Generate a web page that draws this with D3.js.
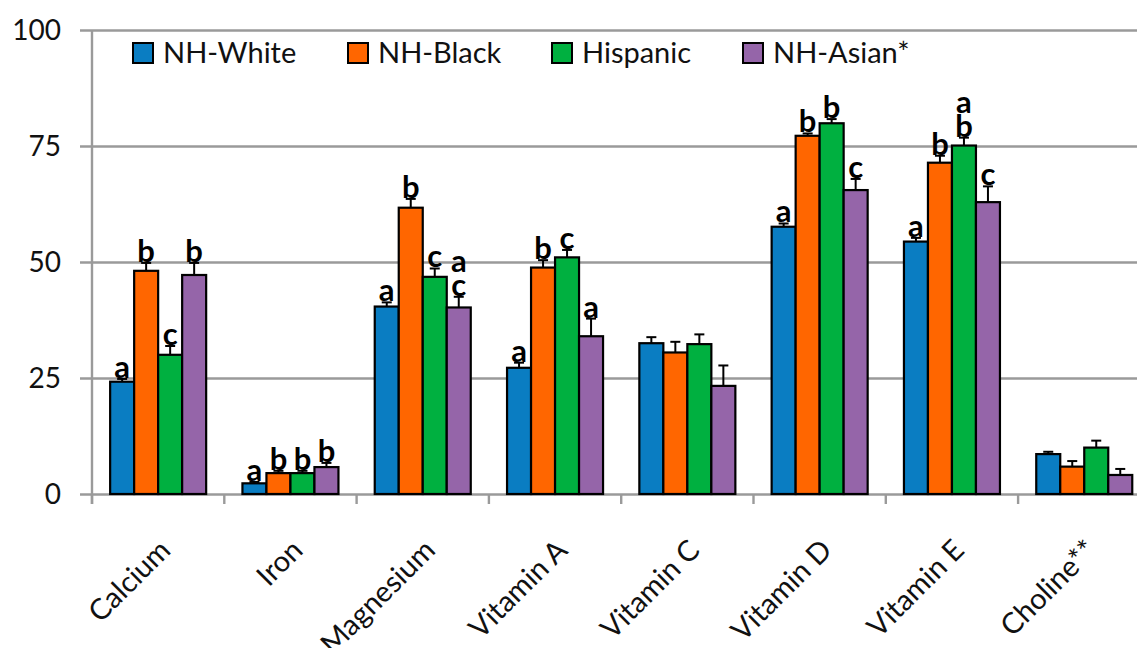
<!DOCTYPE html>
<html>
<head>
<meta charset="utf-8">
<script src="https://cdn.jsdelivr.net/npm/d3@7"></script>
<style>
  html, body { margin: 0; padding: 0; background: #fff; }
  svg { display: block; font-family: Lato, "Open Sans", sans-serif; }
</style>
</head>
<body>
<svg id="chart" width="1137" height="648"></svg>
<script>
// Nutrients on the x axis
const categories = ["Calcium", "Iron", "Magnesium", "Vitamin A", "Vitamin C", "Vitamin D", "Vitamin E", "Choline**"];
const seriesNames = ["NH-White", "NH-Black", "Hispanic", "NH-Asian*"];

// Mean values per group
const whiteVals    = [24.2, 2.3, 40.4, 27.2, 32.5, 57.6, 54.4, 8.6];
const blackVals    = [48.1, 4.5, 61.7, 48.8, 30.5, 77.2, 71.4, 5.9];
const hispanicVals = [30.0, 4.5, 46.8, 51.0, 32.3, 79.9, 75.1, 10.0];
const asianVals    = [47.2, 5.8, 40.2, 34.0, 23.3, 65.5, 62.9, 4.1];

// Upper error (standard error) per group
const whiteErr    = [0.6, 0.3, 0.9, 1.1, 1.3, 0.7, 0.8, 0.5];
const blackErr    = [1.7, 0.5, 1.9, 1.6, 2.3, 0.5, 1.5, 1.2];
const hispanicErr = [1.9, 0.5, 1.8, 1.6, 2.1, 0.9, 1.7, 1.5];
const asianErr    = [2.6, 0.9, 2.3, 3.8, 4.4, 2.4, 3.4, 1.3];

// Significance letters (top to bottom when stacked)
const whiteSig    = [["a"], ["a"], ["a"], ["a"], [], ["a"], ["a"], []];
const blackSig    = [["b"], ["b"], ["b"], ["b"], [], ["b"], ["b"], []];
const hispanicSig = [["c"], ["b"], ["c"], ["c"], [], ["b"], ["a", "b"], []];
const asianSig    = [["b"], ["b"], ["a", "c"], ["a"], [], ["c"], ["c"], []];

const yTicks = [0, 25, 50, 75, 100];
const colors = ["#0A7DC2", "#FF6600", "#00B040", "#9565A9"];

const seriesVals = [whiteVals, blackVals, hispanicVals, asianVals];
const seriesErr = [whiteErr, blackErr, hispanicErr, asianErr];
const seriesSig = [whiteSig, blackSig, hispanicSig, asianSig];

const rows = [];
categories.forEach((c, ci) => {
  seriesNames.forEach((s, si) => {
    rows.push({ cat: c, series: s, si, value: seriesVals[si][ci], err: seriesErr[si][ci], sig: seriesSig[si][ci] });
  });
});

const svg = d3.select("#chart");
const plotLeft = 92, plotTop = 30, plotBottom = 494;
const step = 132.3;

const y = d3.scaleLinear().domain([0, 100]).range([plotBottom, plotTop]);
const x0 = d3.scaleBand().domain(categories).range([plotLeft, plotLeft + step * categories.length]).padding(0);
const x1 = d3.scaleBand().domain(seriesNames).range([0, x0.bandwidth()]).paddingInner(0).paddingOuter(0.756);

const gridColor = "#9a9a9a";

// Horizontal gridlines with ticks extending left of the axis
const yAxis = d3.axisLeft(y).tickValues(yTicks).tickSize(0).tickPadding(0).tickFormat(d3.format("d"));
const gy = svg.append("g").attr("transform", `translate(${plotLeft - 12},0)`).call(yAxis);
gy.select(".domain").remove();
gy.selectAll(".tick line").attr("stroke", gridColor).attr("stroke-width", 2.4).attr("x1", 0).attr("x2", 1137 - plotLeft + 12);
gy.selectAll(".tick text").attr("x", -19).attr("dy", "0.35em").attr("font-size", 28).attr("fill", "#111").attr("font-family", "Lato, sans-serif");

// Vertical axis line
svg.append("line").attr("x1", plotLeft).attr("x2", plotLeft).attr("y1", plotTop).attr("y2", plotBottom + 10)
  .attr("stroke", gridColor).attr("stroke-width", 2.4);

// Category ticks along the bottom
const xAxis = d3.axisBottom(x0).tickSize(10).tickFormat("");
const gx = svg.append("g").attr("transform", `translate(0,${plotBottom})`).call(xAxis);
gx.select(".domain").remove();
gx.selectAll(".tick").attr("transform", d => `translate(${x0(d)},0)`);
gx.selectAll(".tick line").attr("stroke", gridColor).attr("stroke-width", 2.4);

// Category labels, rotated
svg.append("g").selectAll("text").data(categories).join("text")
  .attr("transform", d => `translate(${x0(d) + x0.bandwidth() / 2 + 14},${plotBottom + 58}) rotate(-45)`)
  .attr("text-anchor", "end")
  .attr("font-size", 29)
  .attr("fill", "#111")
  .text(d => d);

// Bars
const groups = svg.append("g").selectAll("g").data(rows).join("g")
  .attr("transform", d => `translate(${x0(d.cat) + x1(d.series)},0)`);

groups.append("rect")
  .attr("x", 0)
  .attr("width", x1.bandwidth())
  .attr("y", d => y(d.value))
  .attr("height", d => y(0) - y(d.value))
  .attr("fill", d => colors[d.si])
  .attr("stroke", "#000")
  .attr("stroke-width", 2.2);

// Error bars (upper only)
const cx = x1.bandwidth() / 2;
groups.append("line")
  .attr("x1", cx).attr("x2", cx)
  .attr("y1", d => y(d.value)).attr("y2", d => y(d.value + d.err))
  .attr("stroke", "#000").attr("stroke-width", 2);
groups.append("line")
  .attr("x1", cx - 5).attr("x2", cx + 5)
  .attr("y1", d => y(d.value + d.err)).attr("y2", d => y(d.value + d.err))
  .attr("stroke", "#000").attr("stroke-width", 2);

// Significance letters: one text per bar, stacked letters as tspans
const sigLine = 24;
groups.filter(d => d.sig.length > 0).append("text")
  .attr("text-anchor", "middle")
  .attr("font-size", 31)
  .attr("font-weight", "bold")
  .attr("fill", "#000")
  .each(function(d) {
    const t = d3.select(this);
    const baseY = y(d.value + d.err) - 1;
    const n = d.sig.length;
    d.sig.forEach((s, k) => {
      t.append("tspan")
        .attr("x", cx)
        .attr("y", baseY - (n - 1 - k) * sigLine)
        .text(s);
    });
  });

// Legend
const legendX = [133, 348, 552, 743];
const legend = svg.append("g").selectAll("g").data(seriesNames).join("g")
  .attr("transform", (d, i) => `translate(${legendX[i]},43)`);
legend.append("rect").attr("width", 20).attr("height", 20)
  .attr("fill", (d, i) => colors[i]).attr("stroke", "#000").attr("stroke-width", 2);
legend.append("text").attr("x", 30).attr("y", 20).attr("font-size", 29).attr("fill", "#111").text(d => d);
</script>
</body>
</html>
